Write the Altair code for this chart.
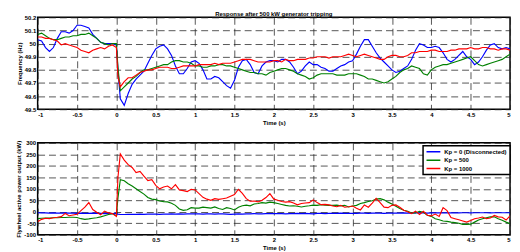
import altair as alt
import pandas as pd

SERIES = ["Kp = 0 (Disconnected)", "Kp = 500", "Kp = 1000"]
COLORS = ["#0000ff", "#008000", "#ff0000"]

# time base: -1..0 step 0.05, one extra sample at 0.02, then 0.05..5 step 0.05
T = [round(-1 + 0.05 * i, 2) for i in range(21)] + [0.02] + [round(0.05 * i, 2) for i in range(1, 101)]

F_KP0 = [50.03, 50.02, 49.97, 49.94, 49.97, 50.04, 50.09, 50.09, 50.08, 50.10, 50.14, 50.14, 50.13, 50.12, 50.07, 50.04, 50.01, 50.00, 50.00, 50.00, 49.99,
         49.80,
         49.58, 49.53, 49.62, 49.69, 49.73, 49.76, 49.79, 49.85, 49.91, 49.96, 49.98, 49.99, 49.96, 49.91, 49.83, 49.77, 49.77, 49.81, 49.86, 49.87,
         49.85, 49.80, 49.73, 49.73, 49.75, 49.74, 49.71, 49.68, 49.66, 49.72, 49.82, 49.87, 49.88, 49.84, 49.78, 49.77, 49.83, 49.86, 49.87, 49.87,
         49.86, 49.88, 49.88, 49.86, 49.82, 49.77, 49.79, 49.83, 49.86, 49.84, 49.84, 49.82, 49.81, 49.79, 49.79, 49.81, 49.83, 49.84, 49.86, 49.87,
         49.92, 49.98, 50.03, 50.03, 49.98, 49.93, 49.89, 49.86, 49.83, 49.80, 49.78, 49.79, 49.81, 49.83, 49.88, 49.95, 50.00, 49.99, 49.97, 49.97,
         49.98, 49.97, 49.93, 49.88, 49.86, 49.88, 49.91, 49.94, 49.90, 49.88, 49.84, 49.86, 49.90, 49.95, 49.99, 50.00, 49.97, 49.96, 49.97, 49.96]

F_KP500 = [50.07, 50.08, 50.06, 50.04, 50.03, 50.03, 50.04, 50.05, 50.05, 50.06, 50.06, 50.07, 50.07, 50.08, 50.06, 50.04, 50.01, 50.00, 49.99, 50.00, 50.00,
           49.82,
           49.64, 49.67, 49.70, 49.73, 49.75, 49.78, 49.80, 49.80, 49.81, 49.82, 49.83, 49.84, 49.84, 49.86, 49.87, 49.87, 49.86, 49.86, 49.85, 49.83,
           49.83, 49.82, 49.82, 49.83, 49.83, 49.84, 49.84, 49.83, 49.83, 49.82, 49.81, 49.80, 49.79, 49.78, 49.78, 49.77, 49.77, 49.76, 49.78, 49.79,
           49.80, 49.81, 49.81, 49.80, 49.79, 49.77, 49.76, 49.75, 49.73, 49.74, 49.76, 49.77, 49.77, 49.77, 49.77, 49.76, 49.76, 49.76, 49.77, 49.77,
           49.77, 49.76, 49.75, 49.73, 49.73, 49.72, 49.71, 49.70, 49.71, 49.73, 49.75, 49.78, 49.80, 49.81, 49.83, 49.82, 49.81, 49.77, 49.76, 49.80,
           49.82, 49.83, 49.84, 49.84, 49.85, 49.86, 49.87, 49.88, 49.89, 49.90, 49.87, 49.84, 49.83, 49.84, 49.85, 49.86, 49.87, 49.88, 49.90, 49.92]

F_KP1000 = [50.05, 50.05, 50.04, 50.04, 50.03, 50.02, 49.99, 50.00, 49.99, 49.98, 49.97, 49.95, 49.94, 49.93, 49.95, 49.96, 49.97, 49.96, 49.98, 49.99, 49.97,
            49.75,
            49.67, 49.71, 49.74, 49.74, 49.76, 49.78, 49.79, 49.80, 49.80, 49.81, 49.82, 49.82, 49.82, 49.81, 49.81, 49.82, 49.83, 49.83, 49.83, 49.83,
            49.84, 49.84, 49.84, 49.84, 49.85, 49.84, 49.85, 49.85, 49.85, 49.86, 49.87, 49.88, 49.88, 49.88, 49.87, 49.86, 49.86, 49.86, 49.86, 49.87,
            49.87, 49.86, 49.88, 49.87, 49.87, 49.88, 49.88, 49.88, 49.89, 49.89, 49.90, 49.90, 49.90, 49.89, 49.90, 49.90, 49.90, 49.91, 49.92, 49.91,
            49.90, 49.91, 49.92, 49.91, 49.90, 49.89, 49.88, 49.88, 49.90, 49.91, 49.91, 49.90, 49.90, 49.91, 49.93, 49.93, 49.94, 49.94, 49.94, 49.95,
            49.95, 49.94, 49.94, 49.94, 49.95, 49.95, 49.96, 49.96, 49.96, 49.97, 49.96, 49.96, 49.97, 49.97, 49.96, 49.96, 49.95, 49.96, 49.96, 49.95]

P_KP0 = [-4, -5, -5, -6, -5, -6, -6, -5, -6, -6, -7, -6, -7, -7, -6, -7, -7, -8, -7, -8, -7,
         -10,
         -12, -12, -11, -11, -11, -10, -11, -10, -10, -10, -11, -10, -10, -9, -10, -9, -10, -9, -9, -9,
         -9, -10, -9, -9, -10, -9, -9, -10, -11, -10, -9, -10, -9, -9, -8, -9, -9, -8, -8, -8,
         -8, -8, -9, -8, -8, -7, -8, -7, -8, -9, -7, -7, -8, -7, -7, -7, -6, -7, -7, -7,
         -7, -6, -6, -7, -6, -6, -6, -7, -6, -6, -6, -6, -5, -6, -6, -5, -5, -5, -6, -5,
         -5, -5, -5, -5, -4, -5, -5, -4, -4, -5, -4, -4, -4, -4, -5, -4, -4, -4, -4, -4]

P_KP500 = [-30, -28, -27, -27, -26, -26, -25, -25, -24, -24, -25, -30, -33, -31, -28, -26, -22, -17, -12, -8, -18,
           60,
           140, 135, 122, 112, 100, 88, 77, 62, 55, 53, 47, 44, 43, 37, 28, 12, 6, 9, 18, 16,
           16, 20, 18, 16, 21, 14, 10, 18, 14, 8, 20, 26, 29, 26, 34, 36, 40, 38, 42, 40,
           36, 32, 28, 25, 26, 24, 21, 24, 26, 29, 28, 31, 29, 28, 28, 29, 26, 28, 21, 25,
           28, 36, 40, 45, 48, 55, 57, 52, 42, 34, 24, 14, 7, 2, -5, -5, 2, -2, -15, -20,
           -30, -35, -40, -42, -45, -47, -50, -55, -55, -54, -45, -36, -30, -26, -22, -22, -30, -37, -45, -52]

P_KP1000 = [-43, -33, -28, -30, -26, -24, -21, -7, -17, -14, -11, 5, 20, 40, 10, -2, -13, 3, -5, -8, -20,
            150,
            252, 225, 205, 193, 171, 176, 155, 136, 140, 115, 100, 108, 112, 100, 118, 95, 92, 88, 98, 95,
            79, 63, 55, 50, 57, 54, 57, 60, 68, 75, 98, 80, 57, 46, 47, 43, 50, 62, 79, 55,
            50, 45, 42, 44, 38, 30, 36, 38, 40, 52, 40, 31, 32, 30, 25, 22, 28, 20, 22, 25,
            15, 8, 30, 20, 38, 58, 40, 20, 18, 28, 30, 20, 7, 0, -8, 3, -12, 2, -15, -18,
            -10, -20, 18, 5, -25, -30, -35, -40, -45, -38, -30, -27, -23, -30, -27, -16, -22, -24, -36, -18]

X_TICKS = [-1, -0.5, 0, 0.5, 1, 1.5, 2, 2.5, 3, 3.5, 4, 4.5, 5]
F_TICKS = [49.5, 49.6, 49.7, 49.8, 49.9, 50, 50.1, 50.2]
P_TICKS = [-100, -50, 0, 50, 100, 150, 200, 250, 300]

FONT = "Liberation Sans"

rows_f, rows_p = [], []
for name, fs, ps in zip(SERIES, [F_KP0, F_KP500, F_KP1000], [P_KP0, P_KP500, P_KP1000]):
    assert len(fs) == len(T) and len(ps) == len(T)
    for t, f, p in zip(T, fs, ps):
        rows_f.append({"t": t, "v": f, "s": name})
        rows_p.append({"t": t, "v": p, "s": name})
df_f = pd.DataFrame(rows_f)
df_p = pd.DataFrame(rows_p)

W, H = 478, 93

def xaxis():
    return alt.X("t:Q", scale=alt.Scale(domain=[-1, 5], nice=False),
                 axis=alt.Axis(values=X_TICKS, labelExpr="'' + datum.value", title="Time (s)"))

top = alt.Chart(df_f).mark_line(strokeWidth=1.15, clip=True).encode(
    x=xaxis(),
    y=alt.Y("v:Q", scale=alt.Scale(domain=[49.5, 50.2], nice=False, zero=False),
            axis=alt.Axis(values=F_TICKS, labelExpr="'' + datum.value", title="Frequency (Hz)")),
    color=alt.Color("s:N", scale=alt.Scale(domain=SERIES, range=COLORS), legend=None),
).properties(width=W, height=H,
             title=alt.TitleParams("Response after 500 kW generator tripping", fontSize=6,
                                   font=FONT, fontWeight="bold", offset=-2.5))

bottom = alt.Chart(df_p).mark_line(strokeWidth=1.15, clip=True).encode(
    x=xaxis(),
    y=alt.Y("v:Q", scale=alt.Scale(domain=[-100, 300], nice=False),
            axis=alt.Axis(values=P_TICKS, labelExpr="'' + datum.value",
                          title="Flywheel active power output (kW)")),
    color=alt.Color("s:N", scale=alt.Scale(domain=SERIES, range=COLORS),
                    legend=alt.Legend(orient="none", legendX=390, legendY=3, title=None,
                                      strokeColor="black", fillColor="white", padding=2.5,
                                      symbolType="stroke", symbolSize=196, symbolStrokeWidth=1.5,
                                      clipHeight=7,
                                      labelFontSize=6, labelFont=FONT, labelFontWeight="bold",
                                      labelColor="black", rowPadding=1.5, labelOffset=3)),
).properties(width=W, height=H)

chart = alt.vconcat(top, bottom, spacing=13).resolve_scale(color="independent").configure(
    padding={"left": 7, "top": 0, "right": 0, "bottom": 0},
    background="white",
).configure_view(stroke="black", strokeWidth=1.5).configure_axis(
    domain=False, ticks=False, grid=True, gridColor="#222222", gridOpacity=0.85, gridWidth=0.9,
    gridDash=[7, 4], labelFont=FONT, labelFontSize=6, labelFontWeight="bold", labelColor="black",
    labelPadding=2, titleFont=FONT, titleFontSize=6, titleFontWeight="bold", titleColor="black",
    titlePadding=2,
).configure_legend(strokeWidth=1.5)

chart.save("out.html", embed_options={"renderer": "svg", "actions": False})
